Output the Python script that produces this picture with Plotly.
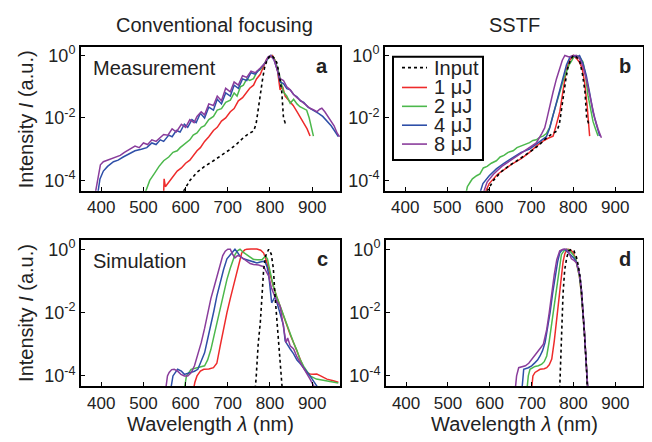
import plotly.graph_objects as go

# ---------------- data (wavelength in nm, log10 of normalized intensity) -------------
series_names = ["Input", "1 μJ", "2 μJ", "4 μJ", "8 μJ"]
x_ticks = [400, 500, 600, 700, 800, 900]
y_tickvals = [1, 1e-2, 1e-4]
y_ticktext = ["10<sup>0</sup>", "10<sup>-2</sup>", "10<sup>-4</sup>"]

# Measured input spectrum (same in a and b)
meas_input_wl = [595, 610, 627, 645, 666, 685, 706, 720, 737, 750, 761, 767, 772, 777, 782, 787, 793, 800, 808, 816, 822, 828, 832, 836, 840]
meas_input_log = [-4.35, -4.0, -3.74, -3.55, -3.37, -3.2, -3.0, -2.85, -2.63, -2.5, -2.42, -2.2, -1.8, -1.27, -0.8, -0.4, -0.15, 0.0, -0.05, -0.22, -0.6, -1.17, -2.0, -2.15, -2.1]

# Panel a: conventional focusing, measurement
a1_wl = [548, 549, 552, 560, 570, 580, 590, 600, 610, 620, 627, 635, 645, 655, 666, 675, 685, 695, 706, 715, 725, 735, 745, 752, 761, 768, 777, 785, 792, 800, 806, 812, 818, 824, 830, 836, 842, 848, 855, 864, 872, 880, 888, 895]
a1_log = [-4.4, -3.95, -4.2, -4.05, -3.9, -3.7, -3.6, -3.45, -3.35, -3.15, -3.05, -2.95, -2.75, -2.6, -2.4, -2.3, -2.1, -2.0, -1.8, -1.7, -1.45, -1.35, -1.15, -1.05, -0.95, -0.75, -0.6, -0.35, -0.12, -0.05, 0.0, -0.15, -0.5, -1.1, -1.0, -1.3, -1.4, -1.5, -1.6, -1.8, -2.0, -2.2, -2.35, -2.58]

a2_wl = [504, 515, 525, 537, 548, 560, 570, 580, 587, 600, 610, 618, 627, 637, 645, 655, 666, 675, 685, 695, 706, 715, 722, 730, 737, 745, 752, 761, 770, 777, 785, 795, 803, 810, 818, 825, 832, 840, 848, 856, 864, 871, 880, 887, 893, 900, 903]
a2_log = [-4.4, -4.0, -3.8, -3.55, -3.37, -3.25, -3.1, -3.05, -2.95, -2.8, -2.7, -2.55, -2.48, -2.3, -2.25, -2.05, -1.95, -1.75, -1.7, -1.5, -1.43, -1.2, -1.3, -1.0, -0.95, -0.75, -0.8, -0.74, -0.5, -0.45, -0.3, -0.1, 0.0, -0.1, -0.4, -0.8, -1.17, -1.3, -1.53, -1.4, -1.55, -1.64, -1.7, -1.75, -2.0, -2.4, -2.58]

a4_wl = [392, 397, 405, 415, 429, 440, 452, 468, 480, 495, 508, 520, 530, 540, 548, 560, 568, 578, 587, 597, 605, 615, 625, 635, 645, 655, 666, 675, 685, 695, 706, 715, 725, 735, 745, 755, 765, 775, 785, 795, 802, 810, 818, 824, 832, 840, 848, 856, 864, 872, 880, 890, 903, 915, 925, 935, 945, 955, 962]
a4_log = [-4.4, -3.95, -3.7, -3.55, -3.4, -3.35, -3.25, -3.15, -3.05, -3.0, -2.95, -2.8, -2.85, -2.7, -2.75, -2.55, -2.6, -2.4, -2.45, -2.2, -2.3, -2.05, -2.15, -1.85, -2.0, -1.65, -1.75, -1.4, -1.55, -1.2, -1.3, -0.95, -1.05, -0.75, -0.8, -0.55, -0.6, -0.45, -0.3, -0.1, 0.0, -0.15, -0.5, -0.85, -0.9, -1.06, -1.1, -1.25, -1.32, -1.45, -1.5, -1.65, -1.75, -1.85, -1.95, -2.11, -2.25, -2.45, -2.6]

a8_wl = [386, 392, 398, 405, 415, 425, 435, 445, 455, 469, 480, 490, 500, 510, 520, 530, 548, 558, 568, 578, 590, 600, 610, 620, 627, 637, 645, 655, 666, 675, 685, 695, 706, 715, 725, 735, 745, 755, 765, 777, 788, 795, 802, 810, 818, 824, 832, 840, 848, 856, 864, 871, 880, 895, 905, 911, 918, 923, 930, 935, 945, 952, 959, 965]
a8_log = [-4.4, -3.9, -3.5, -3.4, -3.35, -3.3, -3.25, -3.2, -3.1, -3.0, -2.9, -2.95, -2.8, -2.85, -2.7, -2.75, -2.53, -2.55, -2.35, -2.45, -2.2, -2.3, -2.05, -2.15, -1.95, -1.8, -1.9, -1.55, -1.6, -1.3, -1.45, -1.05, -1.16, -0.85, -0.95, -0.65, -0.7, -0.5, -0.55, -0.4, -0.25, -0.05, 0.0, -0.15, -0.45, -0.74, -0.8, -1.0, -1.1, -1.25, -1.35, -1.43, -1.55, -1.69, -1.75, -1.8, -1.72, -1.69, -1.8, -1.9, -2.1, -2.25, -2.48, -2.6]

# Panel b: SSTF, measurement
b1_wl = [590, 600, 620, 640, 657, 676, 696, 712, 728, 740, 752, 758, 764, 768, 776, 784, 792, 796, 800, 808, 815, 821, 827, 833, 839]
b1_log = [-4.4, -4.1, -3.8, -3.6, -3.45, -3.3, -3.1, -2.9, -2.74, -2.65, -2.58, -2.3, -2.0, -1.8, -1.1, -0.43, -0.15, -0.06, 0.0, -0.1, -0.22, -0.4, -0.85, -1.6, -2.58]

b2_wl = [545, 548, 555, 560, 570, 578, 586, 595, 605, 617, 626, 635, 645, 657, 666, 675, 686, 696, 704, 712, 720, 728, 736, 744, 752, 760, 768, 776, 784, 790, 796, 801, 808, 815, 823, 829, 835, 841, 847, 853, 859]
b2_log = [-4.4, -4.2, -4.05, -3.95, -3.85, -3.79, -3.6, -3.55, -3.45, -3.37, -3.25, -3.2, -3.1, -3.05, -2.95, -2.9, -2.85, -2.79, -2.72, -2.7, -2.62, -2.58, -2.5, -2.3, -1.9, -1.5, -1.17, -0.8, -0.54, -0.3, -0.17, -0.05, 0.0, -0.05, -0.2, -0.6, -1.27, -1.7, -2.11, -2.35, -2.58]

b4_wl = [578, 585, 600, 617, 635, 657, 676, 696, 712, 728, 736, 744, 752, 760, 768, 776, 784, 792, 800, 808, 815, 823, 831, 839, 847, 855, 863]
b4_log = [-4.4, -4.1, -3.85, -3.63, -3.45, -3.27, -3.1, -3.0, -2.85, -2.7, -2.6, -2.32, -1.9, -1.48, -1.05, -0.64, -0.3, -0.06, 0.0, -0.05, 0.0, -0.25, -0.64, -1.2, -1.8, -2.2, -2.58]

b8_wl = [586, 595, 610, 630, 657, 680, 696, 712, 725, 732, 736, 744, 752, 760, 768, 774, 780, 790, 800, 808, 815, 823, 831, 839, 845, 851, 859, 867]
b8_log = [-4.4, -4.05, -3.8, -3.55, -3.3, -3.1, -2.95, -2.8, -2.5, -2.32, -2.1, -1.6, -1.17, -0.75, -0.38, -0.15, 0.0, -0.05, 0.0, 0.0, -0.1, -0.35, -0.75, -1.3, -1.7, -2.0, -2.35, -2.63]

# Panel c: conventional focusing, simulation
c_input_wl = [765, 767, 772, 777, 781, 785, 790, 797, 803, 808, 812, 816, 820, 824, 827, 829]
c_input_log = [-4.4, -4.1, -3.0, -2.32, -1.5, -0.64, -0.2, 0.0, -0.15, -0.6, -1.48, -2.2, -2.95, -3.6, -4.1, -4.4]

c1_wl = [619, 622, 627, 635, 643, 655, 666, 674, 682, 690, 698, 706, 713, 719, 725, 733, 740, 745, 755, 769, 778, 785, 790, 795, 801, 808, 816, 824, 832, 840, 848, 856, 864, 871, 880, 888, 895, 903, 911, 920, 935, 950, 962]
c1_log = [-4.4, -4.2, -4.0, -3.85, -3.79, -3.78, -3.74, -3.6, -3.05, -2.5, -2.0, -1.55, -1.17, -0.8, -0.54, -0.12, -0.02, 0.0, 0.01, 0.01, -0.03, -0.12, -0.3, -0.55, -0.85, -1.17, -1.5, -1.8, -2.1, -2.42, -2.7, -2.95, -3.2, -3.47, -3.75, -3.9, -3.94, -3.95, -3.94, -4.0, -4.1, -4.15, -4.2]

c2_wl = [597, 602, 613, 629, 645, 652, 660, 667, 674, 682, 690, 698, 706, 712, 717, 723, 729, 737, 745, 753, 761, 770, 781, 789, 794, 797, 803, 808, 816, 824, 832, 840, 848, 856, 864, 871, 880, 895, 910, 930, 962]
c2_log = [-4.4, -4.0, -3.79, -3.74, -3.68, -3.5, -3.16, -2.75, -2.32, -1.85, -1.38, -0.95, -0.59, -0.35, -0.17, -0.05, 0.0, -0.1, -0.17, -0.25, -0.32, -0.33, -0.33, -0.22, -0.3, -0.5, -0.85, -1.17, -1.5, -1.8, -2.1, -2.4, -2.7, -2.95, -3.2, -3.47, -3.7, -4.0, -4.1, -4.15, -4.22]

c4_wl = [565, 570, 581, 590, 597, 605, 613, 621, 629, 637, 645, 652, 660, 667, 674, 682, 690, 698, 706, 712, 717, 723, 729, 737, 745, 757, 769, 777, 785, 789, 793, 797, 800, 804, 808, 812, 818, 824, 832, 836, 840, 848, 856, 864, 871, 880, 895, 910, 915]
c4_log = [-4.4, -4.0, -3.79, -3.85, -3.95, -3.92, -3.89, -3.85, -3.79, -3.55, -3.27, -2.85, -2.42, -1.95, -1.48, -1.05, -0.64, -0.3, -0.17, -0.05, 0.0, -0.1, -0.22, -0.3, -0.33, -0.38, -0.43, -0.4, -0.38, -0.42, -0.55, -0.8, -1.17, -1.69, -1.6, -1.5, -1.75, -2.05, -2.4, -2.9, -3.0, -3.15, -3.3, -3.5, -3.6, -3.75, -4.0, -4.3, -4.4]

c8_wl = [553, 557, 561, 567, 573, 581, 589, 597, 605, 613, 621, 629, 637, 645, 653, 660, 668, 675, 682, 688, 694, 700, 706, 711, 717, 723, 729, 737, 745, 753, 761, 773, 785, 791, 797, 803, 808, 816, 824, 832, 838, 842, 848, 856, 864, 875, 885, 895, 903, 908]
c8_log = [-4.4, -4.0, -3.89, -3.8, -3.79, -3.85, -3.95, -4.0, -4.0, -3.9, -3.68, -3.35, -2.95, -2.5, -2.0, -1.55, -1.17, -0.8, -0.43, -0.2, -0.06, 0.0, 0.0, -0.15, -0.27, -0.2, -0.22, -0.3, -0.38, -0.45, -0.48, -0.5, -0.55, -0.7, -0.85, -1.2, -1.38, -1.65, -1.8, -2.4, -2.95, -2.8, -3.05, -3.15, -3.4, -3.65, -3.9, -4.1, -4.3, -4.4]

# Panel d: SSTF, simulation
d_input_wl = [767, 769, 771, 775, 779, 784, 789, 795, 801, 807, 812, 816, 820, 824, 827, 830, 833]
d_input_log = [-4.4, -3.5, -2.4, -1.4, -0.64, -0.25, -0.05, 0.0, -0.05, -0.25, -0.55, -0.9, -1.5, -2.2, -2.84, -3.5, -4.4]

d1_wl = [700, 703, 708, 715, 720, 730, 736, 742, 748, 754, 760, 766, 771, 775, 779, 784, 787, 793, 799, 805, 810, 814, 818, 822, 826, 829, 832, 834]
d1_log = [-4.4, -4.0, -3.89, -3.82, -3.79, -3.77, -3.74, -3.65, -3.47, -2.9, -2.21, -1.4, -0.75, -0.4, -0.15, -0.02, 0.0, -0.02, -0.1, -0.3, -0.6, -0.85, -1.3, -1.9, -2.6, -3.3, -4.0, -4.4]

d2_wl = [689, 692, 696, 708, 716, 724, 730, 736, 742, 748, 754, 760, 766, 771, 777, 783, 790, 799, 805, 810, 814, 818, 822, 826, 829, 832, 834]
d2_log = [-4.4, -4.0, -3.79, -3.7, -3.68, -3.63, -3.55, -3.37, -2.9, -2.32, -1.65, -1.06, -0.55, -0.17, -0.05, 0.0, -0.03, -0.17, -0.3, -0.6, -0.85, -1.3, -1.9, -2.6, -3.3, -4.0, -4.4]

d4_wl = [677, 679, 681, 692, 700, 708, 714, 720, 726, 732, 738, 744, 750, 756, 762, 767, 773, 779, 787, 795, 801, 807, 811, 815, 819, 823, 826, 829, 832, 834]
d4_log = [-4.4, -4.0, -3.79, -3.74, -3.68, -3.58, -3.5, -3.37, -3.2, -2.95, -2.5, -2.0, -1.4, -0.85, -0.4, -0.12, -0.02, 0.0, -0.1, -0.22, -0.28, -0.4, -0.6, -0.85, -1.3, -1.9, -2.6, -3.3, -4.0, -4.4]

d8_wl = [661, 664, 669, 677, 685, 693, 700, 708, 716, 722, 728, 732, 736, 742, 748, 754, 760, 764, 767, 775, 783, 789, 795, 801, 807, 811, 815, 819, 823, 826, 829, 832, 834]
d8_log = [-4.4, -4.0, -3.74, -3.72, -3.68, -3.6, -3.47, -3.35, -3.21, -3.1, -3.0, -2.8, -2.53, -2.0, -1.38, -0.8, -0.33, -0.12, -0.05, 0.0, 0.0, -0.1, -0.3, -0.35, -0.42, -0.6, -0.85, -1.3, -1.9, -2.6, -3.3, -4.0, -4.4]

# ---------------- styling -------------
colors = {"Input": "black", "1 μJ": "#ee2b2b", "2 μJ": "#4cb84c", "4 μJ": "#2e4fa8", "8 μJ": "#8a3d9c"}
FONT = "Liberation Sans, Arial, sans-serif"
TXT = "#222"
OFF = 8            # page body margin of the browser
W, H = 652 - OFF, 442 - OFF


def px(xp):
    return (xp - OFF) / W


def py(yp):
    return 1 - (yp - OFF) / H


panels = {
    "a": ([meas_input_wl, a1_wl, a2_wl, a4_wl, a8_wl], [meas_input_log, a1_log, a2_log, a4_log, a8_log]),
    "b": ([meas_input_wl, b1_wl, b2_wl, b4_wl, b8_wl], [meas_input_log, b1_log, b2_log, b4_log, b8_log]),
    "c": ([c_input_wl, c1_wl, c2_wl, c4_wl, c8_wl], [c_input_log, c1_log, c2_log, c4_log, c8_log]),
    "d": ([d_input_wl, d1_wl, d2_wl, d4_wl, d8_wl], [d_input_log, d1_log, d2_log, d4_log, d8_log]),
}
axis_ids = {"a": "", "b": "2", "c": "3", "d": "4"}

fig = go.Figure()
for key, (wls, logs) in panels.items():
    aid = axis_ids[key]
    for i in [1, 2, 3, 4, 0]:  # colored first, input on top
        name = series_names[i]
        fig.add_trace(go.Scatter(
            x=wls[i], y=[10 ** v for v in logs[i]], mode="lines", name=name,
            line=dict(color=colors[name], width=1.5 if i else 1.6, dash="dot" if i == 0 else "solid"),
            xaxis="x" + aid, yaxis="y" + aid, showlegend=False,
        ))

# panel boxes in page pixels (left, right, top, bottom)
boxes = {"a": (81, 340, 44, 189), "b": (385, 643, 44, 189), "c": (81, 340, 239, 386), "d": (386, 643, 239, 386)}
layout = dict(
    width=W, height=H, margin=dict(l=0, r=0, t=0, b=0),
    paper_bgcolor="white", plot_bgcolor="white",
    font=dict(family=FONT, size=20, color=TXT), showlegend=False,
)
for key, (l, r, t, b) in boxes.items():
    aid = axis_ids[key]
    layout["xaxis" + aid] = dict(
        domain=[px(l), px(r)], range=[352, 966], anchor="y" + aid,
        tickvals=x_ticks, ticks="inside", ticklen=4, tickwidth=1, tickcolor="black",
        showline=True, linewidth=2, linecolor="black", mirror=True,
        showgrid=False, zeroline=False, tickfont=dict(size=17, color=TXT),
    )
    layout["yaxis" + aid] = dict(
        domain=[py(b), py(t)], type="log", range=[-4.33, 0.28], anchor="x" + aid,
        tickvals=y_tickvals, ticktext=y_ticktext, ticks="inside", ticklen=4, tickwidth=1, tickcolor="black",
        showline=True, linewidth=2, linecolor="black", mirror=True,
        showgrid=False, zeroline=False, tickfont=dict(size=18, color=TXT),
    )


def note(text, x, y, size=20, anchor="center", angle=0):
    return dict(text=text, x=px(x), y=py(y), xref="paper", yref="paper", xanchor=anchor, yanchor="middle",
                textangle=angle, showarrow=False, font=dict(size=size, color=TXT, family=FONT))


annotations = [
    note("Conventional focusing", 214, 22),
    note("SSTF", 514, 22),
    note("Intensity <i>I</i> (a.u.)", 26, 117, angle=-90),
    note("Intensity <i>I</i> (a.u.)", 26, 312, angle=-90),
    note("Wavelength <i>λ</i> (nm)", 210, 424),
    note("Wavelength <i>λ</i> (nm)", 514, 424),
    note("Measurement", 91, 65, anchor="left"),
    note("Simulation", 91, 260, anchor="left"),
]
for key, (l, r, t, b) in boxes.items():
    annotations.append(note("<b>%s</b>" % key, r - 10, t + 19, size=20, anchor="right"))

# legend drawn inside panel b (box, line samples and labels)
shapes = [dict(type="rect", xref="paper", yref="paper", x0=px(393), x1=px(483), y0=py(158), y1=py(54),
               line=dict(color="black", width=2), fillcolor="white", layer="above")]
legend_rows = [65, 85, 104, 123, 142]
for name, yr in zip(series_names, legend_rows):
    shapes.append(dict(type="line", xref="paper", yref="paper", x0=px(402), x1=px(427), y0=py(yr), y1=py(yr),
                       line=dict(color=colors[name], width=1.6, dash="dot" if name == "Input" else "solid"),
                       layer="above"))
    annotations.append(note(name, 432, yr, size=20, anchor="left"))

layout["annotations"] = annotations
layout["shapes"] = shapes
fig.update_layout(**layout)
fig.write_html("out.html")
